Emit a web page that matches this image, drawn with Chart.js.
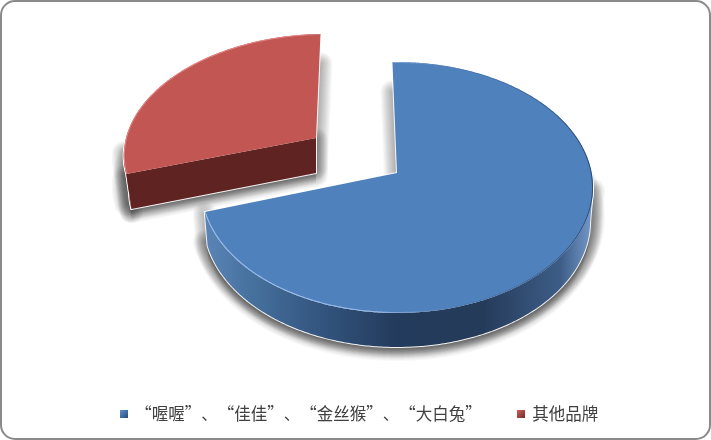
<!DOCTYPE html>
<html>
<head>
<meta charset="utf-8">
<style>
  html, body { margin: 0; background: #fff; }
  #box { position: relative; width: 711px; height: 440px; box-sizing: border-box; border: 2px solid #8a8a8a; border-radius: 15px; overflow: hidden; }
  #wrap { position: absolute; left: -2px; top: -2px; width: 711px; height: 440px; }
</style>
<script src="https://cdn.jsdelivr.net/npm/chart.js@4"></script>
</head>
<body>
<div id="box"><div id="wrap"><canvas id="myChart" width="711" height="440"></canvas></div></div>
<script>
const categories = ["“喔喔”、“佳佳”、“金丝猴”、“大白兔”", "其他品牌"];
const shares = [70.5, 29.5];

const topColors = ["#4f81bd", "#c25653"];
const edgeColors = ["#9dbde8", "#e58583"];

// where each exploded slice sits on the page, with a bit of perspective (p)
const blueShape = { x: 397, y: 173, rx: 194.7, ry: 123.8, p: 0.1156, skew: 0, depth: 34, shrink: 0.985, cutFace: false };
const redShape = { x: 316, y: 138, rx: 190, ry: 115, p: 0.105, skew: -9, depth: 35, shrink: 0.973, cutFace: true };
const shapes = [blueShape, redShape];

function project(g, angle) {
  const u = Math.cos(angle);
  const v = Math.sin(angle);
  const w = 1 - g.p * v;
  return { x: g.x + (g.rx * u) / w + g.skew * v, y: g.y + (g.ry * v) / w, front: v > g.p };
}

function rim(g, start, end) {
  const pts = [];
  const steps = Math.ceil(Math.abs(end - start) / 0.01);
  for (let i = 0; i <= steps; i++) {
    pts.push(project(g, start + ((end - start) * i) / steps));
  }
  return pts;
}

function lower(g, p) {
  return { x: g.x + (p.x - g.x) * g.shrink, y: p.y + g.depth };
}

function trace(ctx, pts) {
  pts.forEach((p, i) => {
    if (i === 0) ctx.moveTo(p.x, p.y);
    else ctx.lineTo(p.x, p.y);
  });
  ctx.closePath();
}

function wallBand(g, pts) {
  const front = pts.filter((p) => p.front);
  return [...front, ...front.slice().reverse().map((p) => lower(g, p))];
}

function cutBand(g, pts) {
  const apex = { x: g.x, y: g.y };
  return [apex, pts[0], lower(g, pts[0]), lower(g, apex)];
}

function pieces(g, pts) {
  const list = [[{ x: g.x, y: g.y }, ...pts], wallBand(g, pts)];
  if (g.cutFace) list.push(cutBand(g, pts));
  return list;
}

function softOutline(ctx, outline, dy) {
  ctx.save();
  ctx.translate(0, dy);
  ctx.lineJoin = "round";
  ctx.strokeStyle = "rgba(0,0,0,0.032)";
  ctx.beginPath();
  trace(ctx, outline);
  for (let halo = 1; halo <= 12; halo++) {
    ctx.lineWidth = halo * 2;
    ctx.stroke();
  }
  ctx.restore();
}

// copies of a band pushed down a pixel at a time, fading out below the slice
function softDrop(ctx, outline) {
  ctx.save();
  ctx.fillStyle = "rgba(0,0,0,0.03)";
  for (let dy = 1; dy <= 11; dy++) {
    ctx.translate(0, 1);
    ctx.beginPath();
    trace(ctx, outline);
    ctx.fill();
  }
  ctx.restore();
}

// soft drop shadow: the face moved down plus the wall and cut face, each with a faint halo
function drawShadow(ctx, g, pts) {
  softOutline(ctx, [{ x: g.x, y: g.y }, ...pts], 30);
  softOutline(ctx, wallBand(g, pts), 2);
  softDrop(ctx, wallBand(g, pts));
  if (g.cutFace) {
    softOutline(ctx, cutBand(g, pts), 2);
    softDrop(ctx, cutBand(g, pts));
  }
}

function drawWalls(ctx, g, pts, index) {
  ctx.save();
  ctx.strokeStyle = "rgba(255,255,255,0.9)";
  ctx.lineWidth = 2;
  ctx.lineJoin = "round";
  pieces(g, pts).forEach((piece) => {
    ctx.beginPath();
    trace(ctx, piece);
    ctx.stroke();
  });
  ctx.restore();

  const wall = ctx.createLinearGradient(g.x - g.rx, 0, g.x + g.rx, 0);
  if (index === 0) {
    wall.addColorStop(0, "#5b86b8");
    wall.addColorStop(0.12, "#47729f");
    wall.addColorStop(0.3, "#33557f");
    wall.addColorStop(0.5, "#233b5c");
    wall.addColorStop(0.72, "#253b5a");
    wall.addColorStop(0.92, "#3d5d87");
    wall.addColorStop(1, "#7398c8");
  } else {
    wall.addColorStop(0, "#8a3836");
    wall.addColorStop(0.1, "#5f2322");
  }
  ctx.fillStyle = wall;
  ctx.beginPath();
  trace(ctx, wallBand(g, pts));
  ctx.fill();

  if (g.cutFace) {
    ctx.fillStyle = "#5f2322";
    ctx.beginPath();
    trace(ctx, cutBand(g, pts));
    ctx.fill();
  }
}

function drawFace(ctx, g, pts, index) {
  ctx.save();
  ctx.fillStyle = topColors[index];
  ctx.beginPath();
  trace(ctx, [{ x: g.x, y: g.y }, ...pts]);
  ctx.fill();
  ctx.clip();

  // soft bevel along the rim, bright on the left and bottom
  const bevel = ctx.createLinearGradient(g.x - g.rx, 0, g.x + g.rx, 0);
  bevel.addColorStop(0, edgeColors[index]);
  bevel.addColorStop(0.45, edgeColors[index]);
  bevel.addColorStop(0.7, "rgba(60,100,150,0.3)");
  bevel.addColorStop(1, "rgba(35,60,95,0.8)");
  ctx.strokeStyle = bevel;
  ctx.lineWidth = 2;
  ctx.beginPath();
  pts.forEach((p, i) => (i === 0 ? ctx.moveTo(p.x, p.y) : ctx.lineTo(p.x, p.y)));
  ctx.stroke();
  ctx.restore();
}

const slices3d = {
  id: "slices3d",
  beforeDatasetDraw(chart) {
    const ctx = chart.ctx;
    const arcs = chart.getDatasetMeta(0).data;
    const rims = arcs.map((a, i) => rim(shapes[i], a.startAngle, a.endAngle));
    arcs.forEach((a, i) => drawShadow(ctx, shapes[i], rims[i]));
    [1, 0].forEach((i) => {
      drawWalls(ctx, shapes[i], rims[i], i);
      drawFace(ctx, shapes[i], rims[i], i);
    });
    return false;
  },
};

function marker(from, to) {
  const c = document.createElement("canvas");
  c.width = 8;
  c.height = 8;
  const m = c.getContext("2d");
  const g = m.createLinearGradient(0, 0, 8, 8);
  g.addColorStop(0, from);
  g.addColorStop(1, to);
  m.fillStyle = g;
  m.fillRect(0, 0, 8, 8);
  return c;
}

const markers = [marker("#5f92cf", "#264a78"), marker("#d4605c", "#6e2a28")];

new Chart(document.getElementById("myChart"), {
  type: "pie",
  data: {
    labels: categories,
    datasets: [{ data: shares, backgroundColor: topColors, borderWidth: 0 }],
  },
  options: {
    responsive: false,
    animation: false,
    rotation: -1.5,
    layout: { padding: { bottom: 8, left: 9 } },
    plugins: {
      tooltip: { enabled: false },
      legend: {
        position: "bottom",
        labels: {
          color: "#404040",
          boxWidth: 5.25,
          padding: 37,
          usePointStyle: true,
          font: { family: "'Noto Sans CJK SC'", size: 16.5 },
          generateLabels: () =>
            categories.map((text, i) => ({
              text,
              pointStyle: markers[i],
              fontColor: "#404040",
              index: i,
              lineWidth: 0,
            })),
        },
      },
    },
  },
  plugins: [slices3d],
});
</script>
</body>
</html>
